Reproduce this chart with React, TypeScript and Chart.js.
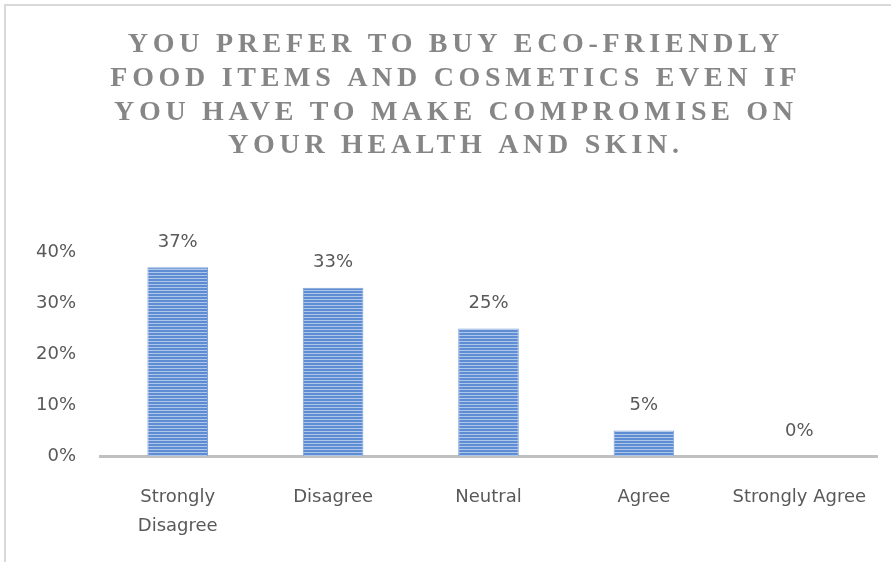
import React, { useEffect, useRef } from "react";
import { Chart, registerables } from "chart.js";

Chart.register(...registerables);

const TITLE_LINES = [
  "YOU PREFER TO BUY ECO-FRIENDLY",
  "FOOD ITEMS AND COSMETICS EVEN IF",
  "YOU HAVE TO MAKE COMPROMISE ON",
  "YOUR HEALTH AND SKIN.",
];
const CATEGORIES: (string | string[])[] = [
  ["Strongly", "Disagree"],
  "Disagree",
  "Neutral",
  "Agree",
  "Strongly Agree",
];
const VALUES = [0.37, 0.33, 0.25, 0.05, 0];
const Y_TICKS = [0, 0.1, 0.2, 0.3, 0.4];

const W = 891;
const H = 562;
const TEXT = "#595959";
const FONT = "DejaVu Sans";

const pct = (v: number) => `${Math.round(v * 100)}%`;

export default function App() {
  const ref = useRef<HTMLCanvasElement | null>(null);

  useEffect(() => {
    document.body.style.margin = "0";
    const canvas = ref.current!;
    const ctx = canvas.getContext("2d")!;

    const pc = document.createElement("canvas");
    pc.width = 4;
    pc.height = 3;
    const p = pc.getContext("2d")!;
    p.fillStyle = "#5f8dd3";
    p.fillRect(0, 0, 4, 3);
    p.fillStyle = "#aec6ea";
    p.fillRect(0, 2, 4, 1);
    const pattern = ctx.createPattern(pc, "repeat")!;

    const titlePlugin = {
      id: "spacedTitle",
      afterDraw(chart: any) {
        const c = chart.ctx;
        c.save();
        c.font = 'bold 28px "Liberation Serif"';
        c.fillStyle = "#868686";
        c.textAlign = "center";
        c.textBaseline = "middle";
        const sp = 4.7;
        (c as any).letterSpacing = `${sp}px`;
        TITLE_LINES.forEach((line, i) => {
          c.fillText(line, chart.width / 2 + 8 + sp / 2, 45 + i * 33.7);
        });
        c.restore();
      },
    };

    const labelPlugin = {
      id: "valueLabels",
      afterDatasetsDraw(chart: any) {
        const c = chart.ctx;
        const meta = chart.getDatasetMeta(0);
        c.save();
        c.font = `18px "${FONT}"`;
        c.fillStyle = TEXT;
        c.textAlign = "center";
        c.textBaseline = "middle";
        meta.data.forEach((bar: any, i: number) => {
          c.fillText(pct(VALUES[i]), bar.x, bar.y - 25);
        });
        c.restore();
      },
    };

    const chart = new Chart(ctx, {
      type: "bar",
      data: {
        labels: CATEGORIES,
        datasets: [
          {
            data: VALUES,
            backgroundColor: pattern,
            borderColor: "#7da1d8",
            borderWidth: 1,
            categoryPercentage: 1,
            barPercentage: 0.39,
          },
        ],
      },
      options: {
        responsive: false,
        animation: false,
        devicePixelRatio: 1,
        layout: { padding: { top: 252, right: 14, left: 0, bottom: 0 } },
        plugins: {
          legend: { display: false },
          title: { display: false },
          tooltip: { enabled: false },
        },
        scales: {
          x: {
            grid: { display: false, drawTicks: false },
            border: { display: true, color: "#c0c0c0", width: 3 },
            ticks: {
              color: TEXT,
              font: { family: FONT, size: 18, lineHeight: 1.6 },
              padding: 27,
              maxRotation: 0,
              autoSkip: false,
            },
            afterFit: (s: any) => {
              s.height = 106;
              s.paddingLeft = 0;
              s.paddingRight = 0;
            },
          },
          y: {
            min: 0,
            max: 0.4,
            grid: { display: false, drawTicks: false },
            border: { display: false },
            afterBuildTicks: (s: any) => {
              s.ticks = Y_TICKS.map((v) => ({ value: v }));
            },
            ticks: {
              color: TEXT,
              font: { family: FONT, size: 18 },
              padding: 24,
              callback: (v: any) => pct(Number(v)),
            },
            afterFit: (s: any) => {
              s.width = 100;
              s.paddingTop = 0;
              s.paddingBottom = 0;
            },
          },
        },
      },
      plugins: [titlePlugin, labelPlugin],
    });

    return () => chart.destroy();
  }, []);

  return (
    <div style={{ position: "relative", width: W, height: H, overflow: "hidden", background: "#fff" }}>
      <canvas ref={ref} width={W} height={H} style={{ position: "absolute", left: 0, top: 0, display: "block" }} />
      <div
        style={{
          position: "absolute",
          left: 4,
          top: 4,
          width: 1000,
          height: 700,
          borderLeft: "2px solid #d9d9d9",
          borderTop: "2px solid #d9d9d9",
          pointerEvents: "none",
        }}
      />
    </div>
  );
}
